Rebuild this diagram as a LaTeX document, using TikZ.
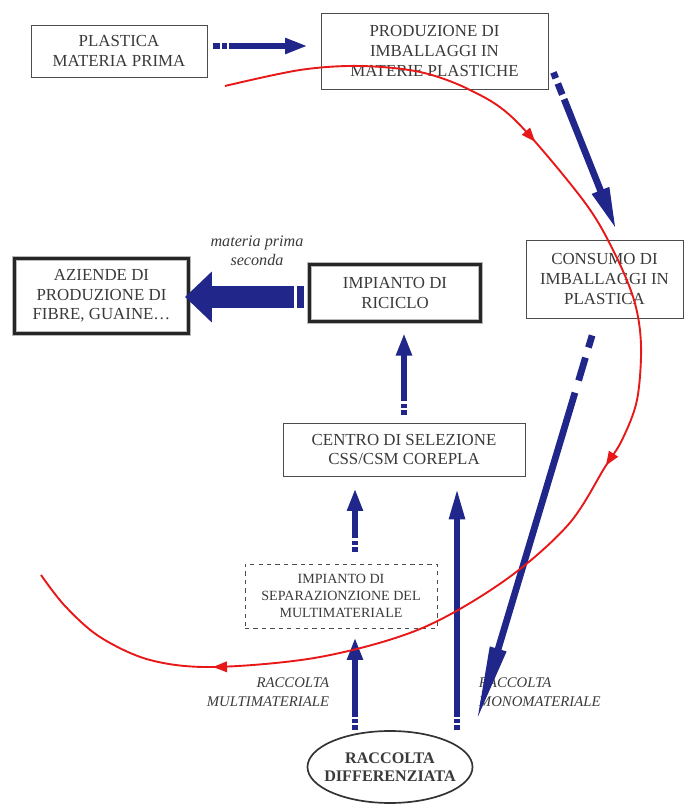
\documentclass[tikz,border=0pt]{standalone}
\usepackage{fontspec}
\setmainfont{Liberation Serif}
\usetikzlibrary{arrows.meta, shapes.geometric, decorations.markings}
\definecolor{flowblue}{RGB}{32,38,138}
\definecolor{loopred}{RGB}{232,24,24}
\definecolor{inkgray}{RGB}{58,58,58}

\begin{document}
\begin{tikzpicture}[
  font=\fontsize{12}{14}\selectfont,
  >={Triangle[length=16pt, width=10.5pt]},
  box/.style={draw=black!70, line width=0.6pt, align=center, text=inkgray, inner sep=1pt},
  heavybox/.style={box, draw=gray!55, line width=0.8pt, double=black!85, double distance=2.4pt},
  flow/.style={->, color=flowblue, line width=4.3pt, dash pattern=on 3.5pt off 1.3pt on 3pt off 1.6pt on 600pt},
  bigflow/.style={color=flowblue, line width=16pt, -{Triangle[length=19pt, width=35pt]}},
  loopline/.style={color=loopred, line width=1.35pt},
  lbl/.style={font=\fontsize{10.5}{13.5}\selectfont\itshape, text=inkgray}
]
  \useasboundingbox (0,0) rectangle (17.125,20.125);

  \node[box, minimum width=4.4cm, minimum height=1.3cm] (plastica) at (2.975,18.85) {PLASTICA\\MATERIA PRIMA};
  \node[box, minimum width=5.675cm, minimum height=1.9cm] (produzione) at (10.8625,18.85) {PRODUZIONE DI\\IMBALLAGGI IN\\MATERIE PLASTICHE};
  \node[box, minimum width=3.925cm, minimum height=1.95cm] (consumo) at (15.1125,13.15) {CONSUMO DI\\IMBALLAGGI IN\\PLASTICA};
  \node[heavybox, minimum width=4.35cm, minimum height=1.875cm] (aziende) at (2.5375,12.725) {AZIENDE DI\\PRODUZIONE DI\\FIBRE, GUAINE\dots};
  \node[heavybox, minimum width=4.275cm, minimum height=1.425cm] (riciclo) at (9.875,12.8) {IMPIANTO DI\\RICICLO};
  \node[box, minimum width=6.05cm, minimum height=1.325cm] (centro) at (10.1,8.8875) {CENTRO DI SELEZIONE\\CSS/CSM COREPLA};
  \node[box, dashed, minimum width=4.8cm, minimum height=1.6cm, font=\fontsize{10}{12}\selectfont] (separ) at (8.525,5.225) {IMPIANTO DI\\SEPARAZIONZIONE DEL\\MULTIMATERIALE};
  \node[ellipse, draw=black!80, line width=1.2pt, minimum width=4.125cm, minimum height=1.8cm, inner xsep=-6pt, inner ysep=0pt,
        align=center, text=inkgray, font=\fontsize{11.5}{13}\selectfont\bfseries] (raccolta) at (9.75,0.95) {RACCOLTA\\DIFFERENZIATA};

  \node[lbl, font=\fontsize{11.5}{13.5}\selectfont\itshape, align=center] (mps) at (6.425,13.85) {materia prima\\seconda};
  \node[lbl, anchor=east, align=right] (multi) at (8.35,2.825) {RACCOLTA\\MULTIMATERIALE};
  \node[lbl, anchor=west, align=left] (mono) at (11.85,2.825) {RACCOLTA\\MONOMATERIALE};

  \draw[flow, dash pattern=on 5pt off 1.4pt on 3.5pt off 1pt on 600pt, shorten <=1.5mm, shorten >=3.25mm]
    ([yshift=1.25mm]plastica.east) -- ([yshift=1.25mm]plastica.east -| produzione.west);
  \draw[flow, line width=4.8pt, dash pattern=on 4.5pt off 4pt on 8.5pt off 3.5pt on 600pt, -{Triangle[length=30pt, width=12pt]}]
    ([shift={(0.125,0.425)}]produzione.south east) -- ([shift={(0.29,0.25)}]consumo.north);
  \draw[flow, line width=4.8pt, dash pattern=on 9pt off 7.5pt on 17pt off 9pt on 600pt, -{Triangle[length=55pt, width=11pt]}]
    ([shift={(-0.31,-0.425)}]consumo.south) -- ([shift={(2.15,1.1)}]raccolta.center);
  \draw[bigflow, dash pattern=on 5pt off 2.2pt on 600pt, shorten <=1.25mm, shorten >=-0.1cm]
    ([yshift=-1mm]riciclo.west) -- ([yshift=-1mm]riciclo.west -| aziende.east);
  \draw[flow] ([xshift=3.5mm]separ.south |- raccolta.north) -- ([xshift=3.5mm, yshift=-2.25mm]separ.south);
  \draw[flow] ([xshift=3.5mm, yshift=3mm]separ.north) -- ([xshift=3.5mm, yshift=-3mm]separ.north |- centro.south);
  \draw[flow] ([yshift=2mm]centro.north) -- ([yshift=-2.75mm]centro.north |- riciclo.south);
  \draw[flow, -{Triangle[length=22pt, width=10.5pt]}]
    ([xshift=16.75mm]raccolta.north) -- ([xshift=16.75mm, yshift=-3mm]raccolta.north |- centro.south);

  \draw[loopline, postaction={decorate}, decoration={markings,
      mark=at position 0.245 with {\arrow{Triangle[length=10pt, width=7.5pt]}},
      mark=at position 0.51 with {\arrow{Triangle[length=10pt, width=7.5pt]}},
      mark=at position 0.85 with {\arrow{Triangle[length=10pt, width=7.5pt]}}}]
    plot[smooth, tension=0.55] coordinates {(5.625,17.975) (7.5,18.375) (9.0,18.475) (10.5,18.325)
      (11.75,17.875) (12.875,17.125) (14.575,15.125) (15.325,13.875) (15.85,12.625) (16.025,11.5)
      (15.925,10.125) (15.55,9.125) (15.125,8.45) (14.2,7.0) (12.6,5.6) (10.5,4.4)
      (8.0,3.7) (5.35,3.45) (3.75,3.625) (2.5,4.2) (1.625,4.975) (1.025,5.75)};
\end{tikzpicture}
\end{document}
